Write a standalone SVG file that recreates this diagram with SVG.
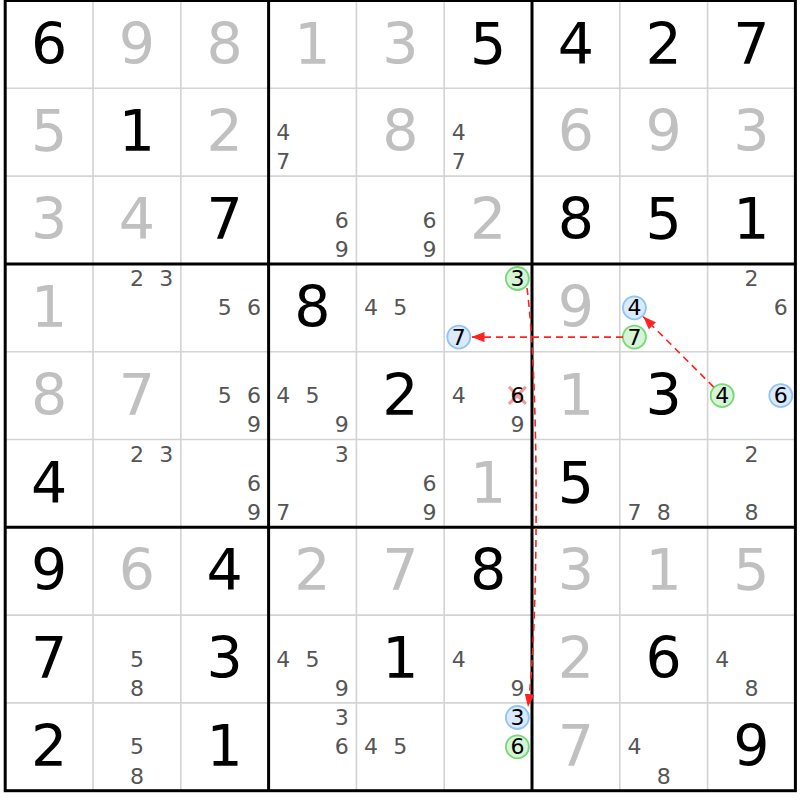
<svg xmlns="http://www.w3.org/2000/svg" width="800" height="800" viewBox="0 0 800 800">
<defs>
<style>
text{font-family:"DejaVu Sans",Verdana,sans-serif;text-anchor:middle}
.g{font-size:57px;fill:#000}
.s{font-size:57px;fill:#c0c0c0}
.c{font-size:22px;fill:#555}
.k{font-size:22px;fill:#000}
.thin{stroke:#d3d3d3;stroke-width:1.6;fill:none}
.thick{stroke:#000;stroke-width:3;fill:none}
.hg{fill:#d6f5d6;stroke:#78d878;stroke-width:1.8}
.hb{fill:#dbeaff;stroke:#90c4f5;stroke-width:1.8}
.x{stroke:#f39a9a;stroke-width:3}
.arr{fill:none;stroke:#f22;stroke-width:1.6;stroke-dasharray:7 5;marker-end:url(#ah)}
</style>
<marker id="ah" markerUnits="userSpaceOnUse" markerWidth="14" markerHeight="10" refX="13" refY="5" orient="auto">
<path d="M0,0 L13,5 L0,10 z" fill="#f22"/>
</marker>
</defs>
<rect x="0" y="0" width="800" height="800" fill="#fff"/>
<g id="grid">
<path class="thin" d="M93,0.5V790.7M180.8,0.5V790.7M356.4,0.5V790.7M444.2,0.5V790.7M619.8,0.5V790.7M707.6,0.5V790.7M5.2,88.3H795.4M5.2,176.1H795.4M5.2,351.7H795.4M5.2,439.5H795.4M5.2,615.1H795.4M5.2,702.9H795.4"/>
<path class="thick" d="M268.6,0.5V790.7M532,0.5V790.7M5.2,263.9H795.4M5.2,527.3H795.4"/>
<rect class="thick" x="5.2" y="0.5" width="790.2" height="790.2"/>
</g>
<g id="cells">
<!-- row 1 -->
<g id="r1c1" transform="translate(5.2,0.5)"><text class="g" x="43.9" y="63">6</text></g>
<g id="r1c2" transform="translate(93,0.5)"><text class="s" x="43.9" y="63">9</text></g>
<g id="r1c3" transform="translate(180.8,0.5)"><text class="s" x="43.9" y="63">8</text></g>
<g id="r1c4" transform="translate(268.6,0.5)"><text class="s" x="43.9" y="63">1</text></g>
<g id="r1c5" transform="translate(356.4,0.5)"><text class="s" x="43.9" y="63">3</text></g>
<g id="r1c6" transform="translate(444.2,0.5)"><text class="g" x="43.9" y="63">5</text></g>
<g id="r1c7" transform="translate(532,0.5)"><text class="g" x="43.9" y="63">4</text></g>
<g id="r1c8" transform="translate(619.8,0.5)"><text class="g" x="43.9" y="63">2</text></g>
<g id="r1c9" transform="translate(707.6,0.5)"><text class="g" x="43.9" y="63">7</text></g>
<!-- row 2 -->
<g id="r2c1" transform="translate(5.2,88.3)"><text class="s" x="43.9" y="63">5</text></g>
<g id="r2c2" transform="translate(93,88.3)"><text class="g" x="43.9" y="63">1</text></g>
<g id="r2c3" transform="translate(180.8,88.3)"><text class="s" x="43.9" y="63">2</text></g>
<g id="r2c4" transform="translate(268.6,88.3)"><text class="c" x="14.6" y="51.5">4</text><text class="c" x="14.6" y="80.8">7</text></g>
<g id="r2c5" transform="translate(356.4,88.3)"><text class="s" x="43.9" y="63">8</text></g>
<g id="r2c6" transform="translate(444.2,88.3)"><text class="c" x="14.6" y="51.5">4</text><text class="c" x="14.6" y="80.8">7</text></g>
<g id="r2c7" transform="translate(532,88.3)"><text class="s" x="43.9" y="63">6</text></g>
<g id="r2c8" transform="translate(619.8,88.3)"><text class="s" x="43.9" y="63">9</text></g>
<g id="r2c9" transform="translate(707.6,88.3)"><text class="s" x="43.9" y="63">3</text></g>
<!-- row 3 -->
<g id="r3c1" transform="translate(5.2,176.1)"><text class="s" x="43.9" y="63">3</text></g>
<g id="r3c2" transform="translate(93,176.1)"><text class="s" x="43.9" y="63">4</text></g>
<g id="r3c3" transform="translate(180.8,176.1)"><text class="g" x="43.9" y="63">7</text></g>
<g id="r3c4" transform="translate(268.6,176.1)"><text class="c" x="73.2" y="51.5">6</text><text class="c" x="73.2" y="80.8">9</text></g>
<g id="r3c5" transform="translate(356.4,176.1)"><text class="c" x="73.2" y="51.5">6</text><text class="c" x="73.2" y="80.8">9</text></g>
<g id="r3c6" transform="translate(444.2,176.1)"><text class="s" x="43.9" y="63">2</text></g>
<g id="r3c7" transform="translate(532,176.1)"><text class="g" x="43.9" y="63">8</text></g>
<g id="r3c8" transform="translate(619.8,176.1)"><text class="g" x="43.9" y="63">5</text></g>
<g id="r3c9" transform="translate(707.6,176.1)"><text class="g" x="43.9" y="63">1</text></g>
<!-- row 4 -->
<g id="r4c1" transform="translate(5.2,263.9)"><text class="s" x="43.9" y="63">1</text></g>
<g id="r4c2" transform="translate(93,263.9)"><text class="c" x="43.9" y="22.2">2</text><text class="c" x="73.2" y="22.2">3</text></g>
<g id="r4c3" transform="translate(180.8,263.9)"><text class="c" x="43.9" y="51.5">5</text><text class="c" x="73.2" y="51.5">6</text></g>
<g id="r4c4" transform="translate(268.6,263.9)"><text class="g" x="43.9" y="63">8</text></g>
<g id="r4c5" transform="translate(356.4,263.9)"><text class="c" x="14.6" y="51.5">4</text><text class="c" x="43.9" y="51.5">5</text></g>
<g id="r4c6" transform="translate(444.2,263.9)"><circle class="hg" cx="73.2" cy="14.6" r="11.5"/><text class="k" x="73.2" y="22.2">3</text><circle class="hb" cx="14.6" cy="73.2" r="11.5"/><text class="k" x="14.6" y="80.8">7</text></g>
<g id="r4c7" transform="translate(532,263.9)"><text class="s" x="43.9" y="63">9</text></g>
<g id="r4c8" transform="translate(619.8,263.9)"><circle class="hb" cx="14.6" cy="43.9" r="11.5"/><text class="k" x="14.6" y="51.5">4</text><circle class="hg" cx="14.6" cy="73.2" r="11.5"/><text class="k" x="14.6" y="80.8">7</text></g>
<g id="r4c9" transform="translate(707.6,263.9)"><text class="c" x="43.9" y="22.2">2</text><text class="c" x="73.2" y="51.5">6</text></g>
<!-- row 5 -->
<g id="r5c1" transform="translate(5.2,351.7)"><text class="s" x="43.9" y="63">8</text></g>
<g id="r5c2" transform="translate(93,351.7)"><text class="s" x="43.9" y="63">7</text></g>
<g id="r5c3" transform="translate(180.8,351.7)"><text class="c" x="43.9" y="51.5">5</text><text class="c" x="73.2" y="51.5">6</text><text class="c" x="73.2" y="80.8">9</text></g>
<g id="r5c4" transform="translate(268.6,351.7)"><text class="c" x="14.6" y="51.5">4</text><text class="c" x="43.9" y="51.5">5</text><text class="c" x="73.2" y="80.8">9</text></g>
<g id="r5c5" transform="translate(356.4,351.7)"><text class="g" x="43.9" y="63">2</text></g>
<g id="r5c6" transform="translate(444.2,351.7)"><text class="c" x="14.6" y="51.5">4</text><path class="x" d="M64.7,35.2L81.7,52.2M81.7,35.2L64.7,52.2"/><text class="k" x="73.2" y="51.5">6</text><text class="c" x="73.2" y="80.8">9</text></g>
<g id="r5c7" transform="translate(532,351.7)"><text class="s" x="43.9" y="63">1</text></g>
<g id="r5c8" transform="translate(619.8,351.7)"><text class="g" x="43.9" y="63">3</text></g>
<g id="r5c9" transform="translate(707.6,351.7)"><circle class="hg" cx="14.6" cy="43.9" r="11.5"/><text class="k" x="14.6" y="51.5">4</text><circle class="hb" cx="73.2" cy="43.9" r="11.5"/><text class="k" x="73.2" y="51.5">6</text></g>
<!-- row 6 -->
<g id="r6c1" transform="translate(5.2,439.5)"><text class="g" x="43.9" y="63">4</text></g>
<g id="r6c2" transform="translate(93,439.5)"><text class="c" x="43.9" y="22.2">2</text><text class="c" x="73.2" y="22.2">3</text></g>
<g id="r6c3" transform="translate(180.8,439.5)"><text class="c" x="73.2" y="51.5">6</text><text class="c" x="73.2" y="80.8">9</text></g>
<g id="r6c4" transform="translate(268.6,439.5)"><text class="c" x="73.2" y="22.2">3</text><text class="c" x="14.6" y="80.8">7</text></g>
<g id="r6c5" transform="translate(356.4,439.5)"><text class="c" x="73.2" y="51.5">6</text><text class="c" x="73.2" y="80.8">9</text></g>
<g id="r6c6" transform="translate(444.2,439.5)"><text class="s" x="43.9" y="63">1</text></g>
<g id="r6c7" transform="translate(532,439.5)"><text class="g" x="43.9" y="63">5</text></g>
<g id="r6c8" transform="translate(619.8,439.5)"><text class="c" x="14.6" y="80.8">7</text><text class="c" x="43.9" y="80.8">8</text></g>
<g id="r6c9" transform="translate(707.6,439.5)"><text class="c" x="43.9" y="22.2">2</text><text class="c" x="43.9" y="80.8">8</text></g>
<!-- row 7 -->
<g id="r7c1" transform="translate(5.2,527.3)"><text class="g" x="43.9" y="63">9</text></g>
<g id="r7c2" transform="translate(93,527.3)"><text class="s" x="43.9" y="63">6</text></g>
<g id="r7c3" transform="translate(180.8,527.3)"><text class="g" x="43.9" y="63">4</text></g>
<g id="r7c4" transform="translate(268.6,527.3)"><text class="s" x="43.9" y="63">2</text></g>
<g id="r7c5" transform="translate(356.4,527.3)"><text class="s" x="43.9" y="63">7</text></g>
<g id="r7c6" transform="translate(444.2,527.3)"><text class="g" x="43.9" y="63">8</text></g>
<g id="r7c7" transform="translate(532,527.3)"><text class="s" x="43.9" y="63">3</text></g>
<g id="r7c8" transform="translate(619.8,527.3)"><text class="s" x="43.9" y="63">1</text></g>
<g id="r7c9" transform="translate(707.6,527.3)"><text class="s" x="43.9" y="63">5</text></g>
<!-- row 8 -->
<g id="r8c1" transform="translate(5.2,615.1)"><text class="g" x="43.9" y="63">7</text></g>
<g id="r8c2" transform="translate(93,615.1)"><text class="c" x="43.9" y="51.5">5</text><text class="c" x="43.9" y="80.8">8</text></g>
<g id="r8c3" transform="translate(180.8,615.1)"><text class="g" x="43.9" y="63">3</text></g>
<g id="r8c4" transform="translate(268.6,615.1)"><text class="c" x="14.6" y="51.5">4</text><text class="c" x="43.9" y="51.5">5</text><text class="c" x="73.2" y="80.8">9</text></g>
<g id="r8c5" transform="translate(356.4,615.1)"><text class="g" x="43.9" y="63">1</text></g>
<g id="r8c6" transform="translate(444.2,615.1)"><text class="c" x="14.6" y="51.5">4</text><text class="c" x="73.2" y="80.8">9</text></g>
<g id="r8c7" transform="translate(532,615.1)"><text class="s" x="43.9" y="63">2</text></g>
<g id="r8c8" transform="translate(619.8,615.1)"><text class="g" x="43.9" y="63">6</text></g>
<g id="r8c9" transform="translate(707.6,615.1)"><text class="c" x="14.6" y="51.5">4</text><text class="c" x="43.9" y="80.8">8</text></g>
<!-- row 9 -->
<g id="r9c1" transform="translate(5.2,702.9)"><text class="g" x="43.9" y="63">2</text></g>
<g id="r9c2" transform="translate(93,702.9)"><text class="c" x="43.9" y="51.5">5</text><text class="c" x="43.9" y="80.8">8</text></g>
<g id="r9c3" transform="translate(180.8,702.9)"><text class="g" x="43.9" y="63">1</text></g>
<g id="r9c4" transform="translate(268.6,702.9)"><text class="c" x="73.2" y="22.2">3</text><text class="c" x="73.2" y="51.5">6</text></g>
<g id="r9c5" transform="translate(356.4,702.9)"><text class="c" x="14.6" y="51.5">4</text><text class="c" x="43.9" y="51.5">5</text></g>
<g id="r9c6" transform="translate(444.2,702.9)"><circle class="hb" cx="73.2" cy="14.6" r="11.5"/><text class="k" x="73.2" y="22.2">3</text><circle class="hg" cx="73.2" cy="43.9" r="11.5"/><text class="k" x="73.2" y="51.5">6</text></g>
<g id="r9c7" transform="translate(532,702.9)"><text class="s" x="43.9" y="63">7</text></g>
<g id="r9c8" transform="translate(619.8,702.9)"><text class="c" x="14.6" y="51.5">4</text><text class="c" x="43.9" y="80.8">8</text></g>
<g id="r9c9" transform="translate(707.6,702.9)"><text class="g" x="43.9" y="63">9</text></g>
</g>
<g id="connectors">
<path class="arr" d="M527,288 C539,380 539,620 528,707"/>
<path class="arr" d="M623,337.1 L471.5,337.1"/>
<path class="arr" d="M713.7,387.1 L643.2,316.6"/>
</g>
</svg>
